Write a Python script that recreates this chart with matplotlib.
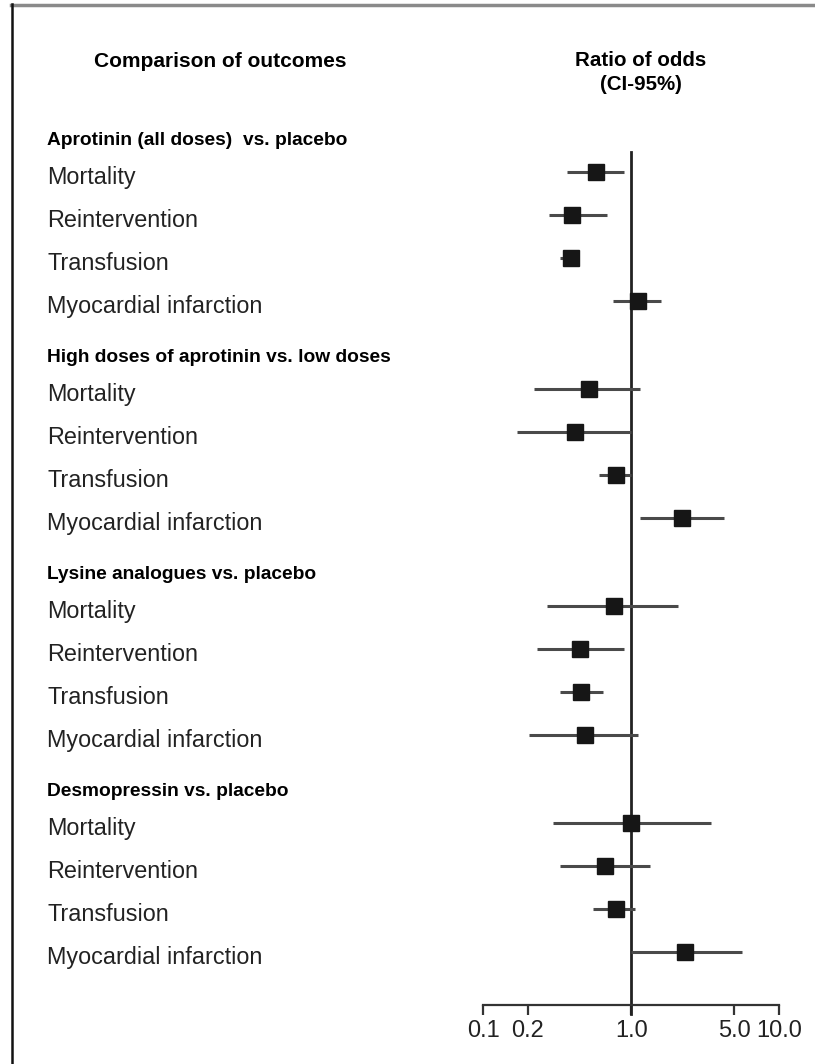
import matplotlib
matplotlib.use("Agg")
import matplotlib.pyplot as plt
from matplotlib import transforms
from matplotlib.lines import Line2D

# odds ratios with 95% confidence limits, one list per comparison
groups = [
    "Aprotinin (all doses)  vs. placebo",
    "High doses of aprotinin vs. low doses",
    "Lysine analogues vs. placebo",
    "Desmopressin vs. placebo",
]
outcomes = ["Mortality", "Reintervention", "Transfusion", "Myocardial infarction"]

odds = [
    [0.58, 0.40, 0.39, 1.12],
    [0.52, 0.415, 0.79, 2.22],
    [0.76, 0.45, 0.46, 0.49],
    [0.99, 0.67, 0.79, 2.30],
]
ci_low = [
    [0.37, 0.28, 0.33, 0.75],
    [0.22, 0.17, 0.61, 1.14],
    [0.27, 0.23, 0.33, 0.205],
    [0.295, 0.33, 0.555, 1.0],
]
ci_high = [
    [0.90, 0.69, 0.44, 1.58],
    [1.15, 1.0, 0.99, 4.22],
    [2.07, 0.89, 0.65, 1.11],
    [3.46, 1.34, 1.07, 5.61],
]
tick_vals = [0.1, 0.2, 1.0, 5.0, 10.0]
tick_text = ["0.1", "0.2", "1.0", "5.0", "10.0"]

plt.rcParams["font.family"] = ["Liberation Sans", "DejaVu Sans"]

W, H = 815, 1064
fig = plt.figure(figsize=(W / 100, H / 100), dpi=100)

# axes measured in pixels from the top so rows line up with the labels
x0, x1, y_axis = 483.3, 779.0, 1005.0
ax = fig.add_axes([x0 / W, (H - y_axis) / H, (x1 - x0) / W, y_axis / H])
ax.set_xscale("log")
ax.set_xlim(0.1, 10)
ax.set_ylim(y_axis, 0)

first_row, pitch, group_step = 172.0, 43.0, 217.0
row_y = [[first_row + g * group_step + k * pitch for k in range(len(outcomes))]
         for g in range(len(groups))]

# reference line at OR = 1
ax.plot([1, 1], [152, y_axis + 9], color="#222222", lw=2.0, clip_on=False, zorder=2)

for g in range(len(groups)):
    for k in range(len(outcomes)):
        y = row_y[g][k]
        ax.plot([ci_low[g][k], ci_high[g][k]], [y, y], color="#4a4a4a", lw=2.2,
                solid_capstyle="butt", zorder=3)
        ax.plot(odds[g][k], y, marker="s", ms=11, color="#161616", zorder=4)

for side in ("top", "right", "left"):
    ax.spines[side].set_visible(False)
ax.spines["bottom"].set_linewidth(1.6)
ax.spines["bottom"].set_color("#333333")
ax.set_yticks([])
ax.xaxis.set_minor_locator(plt.NullLocator())
ax.set_xticks(tick_vals)
ax.set_xticklabels(tick_text, color="#222222")
ax.tick_params(axis="x", direction="out", length=7, width=1.6, color="#333333",
               labelsize=17, pad=4)

# labels on the left
tr = transforms.blended_transform_factory(fig.transFigure, ax.transData)
lx = 47 / W
for g, name in enumerate(groups):
    ax.text(lx, row_y[g][0] - 27, name, transform=tr, fontweight="bold",
            fontsize=13.8, va="baseline", ha="left", clip_on=False)
    for k, out in enumerate(outcomes):
        ax.text(lx, row_y[g][k] + 12, out, transform=tr, fontsize=16.8,
                color="#222222", va="baseline", ha="left", clip_on=False)

ax.text(220 / W, 67, "Comparison of outcomes", transform=tr, fontweight="bold",
        fontsize=15, ha="center", va="baseline", clip_on=False)
ax.text(641 / W, 66, "Ratio of odds", transform=tr, fontweight="bold",
        fontsize=14.8, ha="center", va="baseline", clip_on=False)
ax.text(641 / W, 90, "(CI-95%)", transform=tr, fontweight="bold",
        fontsize=14.8, ha="center", va="baseline", clip_on=False)

# page frame: grey rule on top, black rule on the left
fig.add_artist(Line2D([11 / W, 1], [1 - 5 / H, 1 - 5 / H], transform=fig.transFigure,
                      color="#8a8a8a", lw=2.5))
fig.add_artist(Line2D([11.5 / W, 11.5 / W], [0, 1 - 4 / H], transform=fig.transFigure,
                      color="#111111", lw=1.8))

fig.savefig("out.png", dpi=100)
